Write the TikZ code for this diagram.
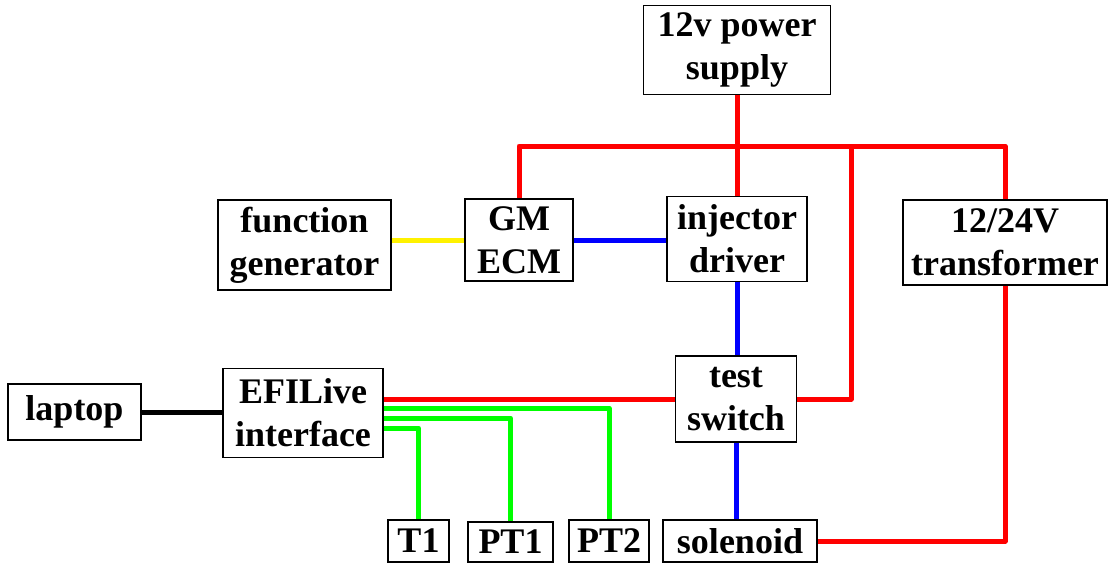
\documentclass[tikz,border=0pt]{standalone}
\usepackage{fontspec}
\setmainfont{Liberation Serif}
\usepackage{tikz}
\usetikzlibrary{positioning, calc}

\begin{document}
\begin{tikzpicture}[
    x=1pt, y=-1pt,
    font=\fontsize{36}{43}\selectfont\bfseries,
    block/.style={rectangle, draw=black, line width=1.6pt, inner sep=0pt, align=center, text centered},
    wire/.style={line width=5pt, line join=round},
    pwr/.style={wire, draw=red},
    sig/.style={wire, draw=blue},
    sens/.style={wire, draw=green}
]
\useasboundingbox (0,0) rectangle (1109,563);

\node (supply) [block, minimum width=187pt, minimum height=89pt] at (737,50) {12v power\\supply};
\node (fgen) [block, minimum width=173pt, minimum height=90pt] at (304.5,245) {function\\generator};
\node (ecm) [block, minimum width=108pt, minimum height=82pt] at (519,240) {GM\\ECM};
\node (injdrv) [block, minimum width=140pt, minimum height=85pt] at (737,239) {injector\\driver};
\node (xfmr) [block, minimum width=204pt, minimum height=85pt] at (1005,242.5) {12/24V\\transformer};
\node (laptop) [block, minimum width=133pt, minimum height=56pt] at (74.5,412) {laptop};
\node (efi) [block, minimum width=160pt, minimum height=89pt] at (303,413) {EFILive\\interface};
\node (tswitch) [block, minimum width=121pt, minimum height=86pt] at (736,399) {test\\switch};
\node (tone) [block, minimum width=61pt, minimum height=42pt] at (418.5,541) {T1};
\node (ptone) [block, minimum width=85pt, minimum height=40pt] at (510.5,542) {PT1};
\node (pttwo) [block, minimum width=80pt, minimum height=42pt] at (609,541) {PT2};
\node (solenoid) [block, minimum width=154pt, minimum height=42pt] at (740,541) {solenoid};

\coordinate (bus) at (0,146);
\coordinate (tap) at (851,146);

% 12v feed
\draw [pwr] (supply.south) -- (injdrv.north);
\draw [pwr] (ecm.north) |- (xfmr.north |- bus) -- (xfmr.north);
\draw [pwr] (tswitch.east) -| (tap);
\draw [pwr] (xfmr.south) |- (solenoid.east);
\draw [pwr] (tswitch.west) -- (tswitch.west -| efi.east);

% signals
\draw [wire, draw=yellow] (ecm.west) -- (ecm.west -| fgen.east);
\draw [sig] (ecm.east) -- (ecm.east -| injdrv.west);
\draw [sig] (injdrv.south) -- (injdrv.south |- tswitch.north);
\draw [sig] (tswitch.south) -- (tswitch.south |- solenoid.north);
\draw [wire, draw=black] (laptop.east) -- (laptop.east -| efi.west);

% sensors
\draw [sens] ([yshift=5pt]efi.east) -| (pttwo.north);
\draw [sens] ([yshift=-5pt]efi.east) -| (ptone.north);
\draw [sens] ([yshift=-15pt]efi.east) -| (tone.north);

\end{tikzpicture}
\end{document}
